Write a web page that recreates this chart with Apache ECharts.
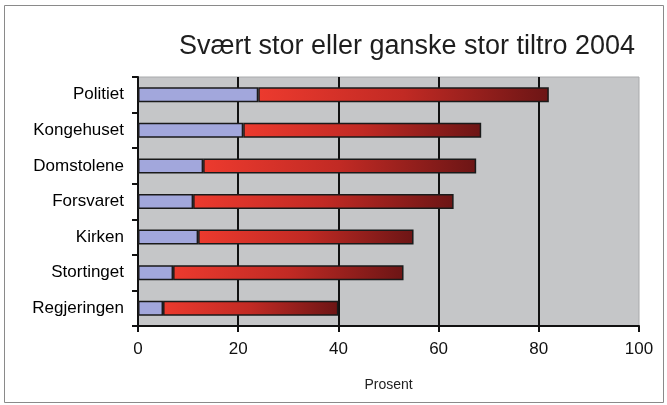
<!DOCTYPE html>
<html>
<head>
<meta charset="utf-8">
<script src="https://cdn.jsdelivr.net/npm/echarts@6/dist/echarts.min.js"></script>
<style>
  html, body { margin: 0; padding: 0; background: #fff; }
  #main { width: 667px; height: 405px; }
</style>
</head>
<body>
<div id="main"></div>
<script>
// data
var kategorier = ["Politiet", "Kongehuset", "Domstolene", "Forsvaret", "Kirken", "Stortinget", "Regjeringen"];
var sværtStor = [24, 21, 13, 11, 12, 7, 5];
var ganskeStor = [58, 47.5, 54.5, 52, 43, 46, 35];
var xTicks = [0, 20, 40, 60, 80, 100];

var myChart = echarts.init(document.getElementById('main'));

// ECharts category axis goes bottom to top, so reverse
var yData = kategorier.slice().reverse();
var blue = sværtStor.slice().reverse();
var red = ganskeStor.slice().reverse();

var option = {
    backgroundColor: "#fff",
    animation: false,
    title: {
        text: "Svært stor eller ganske stor tiltro 2004",
        left: 402,
        top: 28,
        textAlign: "center",
        textStyle: {
            fontFamily: "Liberation Sans, sans-serif",
            fontWeight: "normal",
            fontSize: 27,
            color: "#1e1e1e"
        }
    },
    graphic: [{
        type: "rect",
        shape: { x: 4.5, y: 5.5, width: 659, height: 397 },
        style: { fill: null, stroke: "#8a8a8a", lineWidth: 1 }
    }],
    grid: {
        left: 138,
        right: 28,
        top: 77,
        bottom: 79,
        show: true,
        backgroundColor: "#c5c6c8",
        borderColor: "#a9aaac",
        borderWidth: 1
    },
    xAxis: {
        type: "value",
        min: xTicks[0],
        max: xTicks[xTicks.length - 1],
        interval: 20,
        name: "Prosent",
        nameLocation: "middle",
        nameGap: 52,
        nameTextStyle: {
            fontFamily: "Liberation Sans, sans-serif",
            fontSize: 14,
            color: "#222"
        },
        axisLine: { show: true, lineStyle: { color: "#111", width: 2 } },
        axisTick: { show: true, length: 6, lineStyle: { color: "#111", width: 2 } },
        axisLabel: {
            fontFamily: "Liberation Sans, Arial, sans-serif",
            fontSize: 17,
            color: "#111",
            margin: 15
        },
        splitLine: {
            show: true,
            showMinLine: false,
            showMaxLine: false,
            lineStyle: { color: "#111", width: 2 }
        }
    },
    yAxis: {
        type: "category",
        data: yData,
        axisLine: { show: true, lineStyle: { color: "#111", width: 2 } },
        axisTick: { show: true, length: 6, lineStyle: { color: "#111", width: 2 } },
        axisLabel: {
            fontFamily: "Liberation Sans, Arial, sans-serif",
            fontSize: 17,
            color: "#000",
            margin: 14
        }
    },
    series: [
        {
            name: "Svært stor",
            type: "bar",
            stack: "tiltro",
            data: blue,
            barWidth: 15,
            itemStyle: {
                color: "#a2a7dc",
                borderColor: "#1a1a1a",
                borderWidth: 1.5
            }
        },
        {
            name: "Ganske stor",
            type: "bar",
            stack: "tiltro",
            data: red,
            barWidth: 15,
            itemStyle: {
                color: new echarts.graphic.LinearGradient(0, 0, 1, 0, [
                    { offset: 0, color: "#ec3a2e" },
                    { offset: 0.5, color: "#c12a24" },
                    { offset: 1, color: "#6c1515" }
                ]),
                borderColor: "#1a1a1a",
                borderWidth: 1.5
            }
        }
    ]
};

myChart.setOption(option);
</script>
</body>
</html>
